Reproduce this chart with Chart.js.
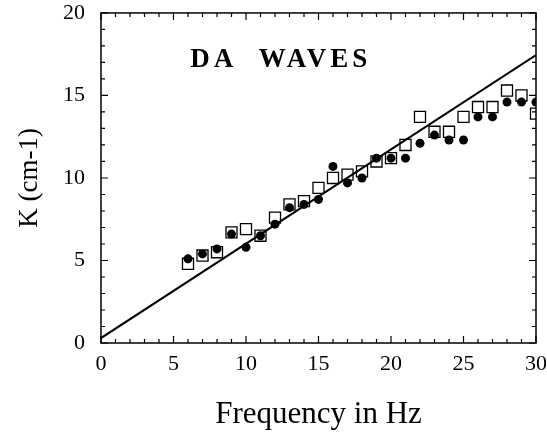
<!DOCTYPE html>
<html>
<head>
<meta charset="utf-8">
<script src="https://cdn.jsdelivr.net/npm/chart.js@4/dist/chart.umd.min.js"></script>
<style>
  html, body { margin: 0; padding: 0; background: #fff; }
  #wrap { width: 547px; height: 438px; }
</style>
</head>
<body>
<div id="wrap"><canvas id="myChart" width="547" height="438"></canvas></div>
<script>
const freqs = [6, 7, 8, 9, 10, 11, 12, 13, 14, 15, 16, 17, 18, 19, 20, 21, 22, 23, 24, 25, 26, 27, 28, 29, 30];
const squareK = [4.8, 5.3, 5.5, 6.7, 6.9, 6.5, 7.6, 8.4, 8.6, 9.4, 10.0, 10.2, 10.4, 11.0, 11.2, 12.0, 13.7, 12.8, 12.8, 13.7, 14.3, 14.3, 15.3, 15.0, 13.9];
const circleK = [5.1, 5.4, 5.7, 6.6, 5.8, 6.5, 7.2, 8.2, 8.4, 8.7, 10.7, 9.7, 10.0, 11.2, 11.2, 11.2, 12.1, 12.6, 12.3, 12.3, 13.7, 13.7, 14.6, 14.6, 14.6];
const fitX = [0, 30];
const fitK = [0.3, 17.45];
const xTicks = [0, 5, 10, 15, 20, 25, 30];
const yTicks = [0, 5, 10, 15, 20];
const label = 'DA  WAVES';

const serif = "'Liberation Serif', 'DejaVu Serif', serif";

function pts(xs, ys) {
    return xs.map((x, i) => ({ x: x, y: ys[i] }));
}

// box, inward ticks and the label inside the plot
const framePlugin = {
    id: 'frame',
    afterDraw(chart) {
        const ctx = chart.ctx;
        const a = chart.chartArea;
        const xs = chart.scales.x, ys = chart.scales.y;
        ctx.save();
        ctx.strokeStyle = '#000';
        ctx.lineWidth = 1.5;
        ctx.strokeRect(a.left, a.top, a.right - a.left, a.bottom - a.top);
        ctx.lineWidth = 1.2;
        ctx.beginPath();
        for (let v = 0; v <= 30; v++) {
            const px = xs.getPixelForValue(v);
            const len = v % 5 === 0 ? 7 : 4;
            ctx.moveTo(px, a.bottom); ctx.lineTo(px, a.bottom - len);
            ctx.moveTo(px, a.top); ctx.lineTo(px, a.top + len);
        }
        for (let v = 0; v <= 20; v++) {
            const py = ys.getPixelForValue(v);
            const len = v % 5 === 0 ? 7 : 4;
            ctx.moveTo(a.left, py); ctx.lineTo(a.left + len, py);
            ctx.moveTo(a.right, py); ctx.lineTo(a.right - len, py);
        }
        ctx.stroke();
        ctx.fillStyle = '#000';
        ctx.font = 'bold 27px ' + serif;
        ctx.letterSpacing = '4px';
        ctx.textAlign = 'center';
        ctx.textBaseline = 'middle';
        ctx.fillText(label, xs.getPixelForValue(12.4), ys.getPixelForValue(17.15));
        ctx.restore();
    }
};

new Chart(document.getElementById('myChart'), {
    type: 'scatter',
    data: {
        datasets: [
            {
                type: 'line',
                data: pts(fitX, fitK),
                borderColor: '#000',
                borderWidth: 2,
                pointRadius: 0,
                fill: false
            },
            {
                data: pts(freqs, circleK),
                pointStyle: 'circle',
                pointRadius: 4.5,
                backgroundColor: '#000',
                borderColor: '#000',
                borderWidth: 0
            },
            {
                data: pts(freqs, squareK),
                pointStyle: 'rect',
                pointRadius: 7.8,
                backgroundColor: '#fff',
                borderColor: '#000',
                borderWidth: 1.3
            }
        ]
    },
    options: {
        responsive: false,
        animation: false,
        layout: { padding: 0 },
        plugins: { legend: { display: false }, tooltip: { enabled: false } },
        scales: {
            x: {
                type: 'linear',
                min: 0, max: 30,
                afterBuildTicks: (s) => { s.ticks = xTicks.map(v => ({ value: v })); },
                afterFit: (s) => { s.height = 95; },
                grid: { display: false },
                border: { display: false },
                ticks: { color: '#000', padding: 0, maxRotation: 0, font: { family: serif, size: 22, lineHeight: 1.2 } },
                title: { display: true, text: 'Frequency in Hz', color: '#000', padding: { top: 4, bottom: 5 }, font: { family: serif, size: 31 } }
            },
            y: {
                type: 'linear',
                min: 0, max: 20,
                afterBuildTicks: (s) => { s.ticks = yTicks.map(v => ({ value: v })); },
                afterFit: (s) => { s.width = 101; },
                grid: { display: false },
                border: { display: false },
                ticks: { color: '#000', padding: 8, font: { family: serif, size: 22, lineHeight: 0.45 } },
                title: { display: true, text: 'K (cm-1)', color: '#000', padding: { top: 14, bottom: 0 }, font: { family: serif, size: 27 } }
            }
        }
    },
    plugins: [framePlugin]
});
</script>
</body>
</html>
